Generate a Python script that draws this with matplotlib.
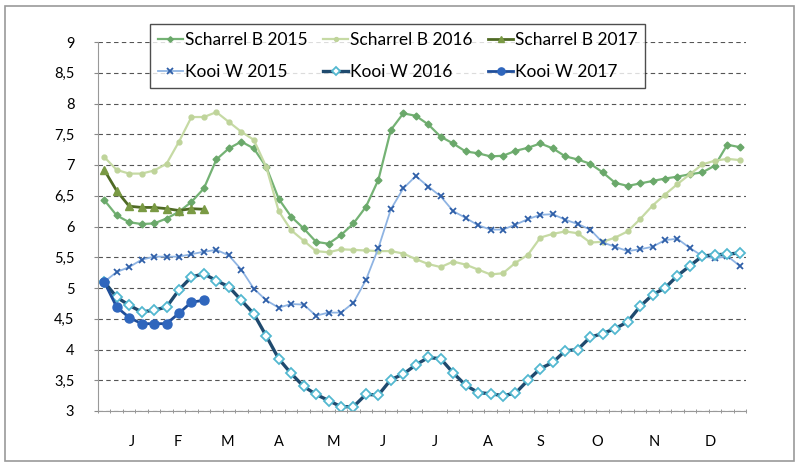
import matplotlib
matplotlib.use("Agg")
import matplotlib.pyplot as plt
import numpy as np
from matplotlib.patches import Rectangle

plt.rcParams['font.family'] = ['Lato', 'DejaVu Sans']

# weekly values, week 1..52
weeks = np.arange(52)

scharrel_2015 = [6.43, 6.18, 6.07, 6.04, 6.05, 6.13, 6.24, 6.40, 6.62, 7.09, 7.27, 7.38, 7.27,
                 6.97, 6.45, 6.16, 5.97, 5.75, 5.72, 5.86, 6.05, 6.32, 6.76, 7.57, 7.84, 7.80,
                 7.66, 7.46, 7.35, 7.22, 7.19, 7.14, 7.15, 7.23, 7.28, 7.35, 7.27, 7.14, 7.09,
                 7.02, 6.88, 6.71, 6.66, 6.70, 6.74, 6.78, 6.81, 6.85, 6.88, 6.99, 7.33, 7.29]
scharrel_2016 = [7.13, 6.92, 6.86, 6.86, 6.91, 7.02, 7.38, 7.78, 7.78, 7.86, 7.70, 7.54, 7.41,
                 6.97, 6.25, 5.94, 5.77, 5.60, 5.58, 5.63, 5.62, 5.61, 5.60, 5.60, 5.56, 5.47,
                 5.39, 5.34, 5.43, 5.38, 5.30, 5.22, 5.24, 5.41, 5.54, 5.82, 5.88, 5.92, 5.89,
                 5.74, 5.75, 5.82, 5.92, 6.12, 6.34, 6.52, 6.69, 6.85, 7.01, 7.07, 7.10, 7.08]
scharrel_2017 = [6.92, 6.58, 6.33, 6.31, 6.31, 6.29, 6.26, 6.29, 6.28]

kooi_2015 = [5.10, 5.26, 5.34, 5.46, 5.51, 5.51, 5.51, 5.55, 5.59, 5.62, 5.53, 5.30, 4.99,
             4.80, 4.68, 4.74, 4.73, 4.55, 4.60, 4.60, 4.76, 5.13, 5.65, 6.28, 6.62, 6.82,
             6.65, 6.49, 6.25, 6.14, 6.02, 5.95, 5.95, 6.03, 6.12, 6.19, 6.20, 6.11, 6.04,
             5.95, 5.74, 5.67, 5.60, 5.63, 5.67, 5.78, 5.80, 5.65, 5.52, 5.48, 5.52, 5.36]
kooi_2016 = [5.10, 4.85, 4.72, 4.61, 4.64, 4.69, 4.97, 5.18, 5.23, 5.12, 5.02, 4.80, 4.58,
             4.22, 3.85, 3.61, 3.40, 3.27, 3.17, 3.07, 3.07, 3.27, 3.26, 3.51, 3.60, 3.75,
             3.87, 3.85, 3.62, 3.42, 3.30, 3.28, 3.25, 3.29, 3.50, 3.69, 3.79, 3.98, 4.00,
             4.20, 4.26, 4.34, 4.45, 4.70, 4.89, 5.00, 5.20, 5.36, 5.52, 5.54, 5.55, 5.57]
kooi_2017 = [5.10, 4.69, 4.52, 4.42, 4.42, 4.42, 4.59, 4.77, 4.80]

month_labels = ['J', 'F', 'M', 'A', 'M', 'J', 'J', 'A', 'S', 'O', 'N', 'D']
month_pos = [2.2, 5.9, 9.9, 14.0, 18.4, 22.4, 26.5, 30.8, 35.0, 39.6, 44.1, 48.6]
y_ticks = [3, 3.5, 4, 4.5, 5, 5.5, 6, 6.5, 7, 7.5, 8, 8.5, 9]

fig = plt.figure(figsize=(7.99, 4.67), dpi=100)
ax = fig.add_axes([98/799, 1-411/467, 648/799, 369/467])

# outer frame of the picture
fig.patches.append(Rectangle((0.006, 0.012), 0.988, 0.976, transform=fig.transFigure,
                             fill=False, edgecolor='#9a9a9a', lw=1.2))

h_s15, = ax.plot(weeks, scharrel_2015, color='#74b274', lw=1.6, marker='D', ms=3.5,
                 mfc='#6aa86a', mec='#6aa86a', label='Scharrel B 2015')
h_s16, = ax.plot(weeks, scharrel_2016, color='#c6daa4', lw=1.6, marker='o', ms=3.5,
                 mfc='#bfd49a', mec='#bfd49a', label='Scharrel B 2016')
h_k15, = ax.plot(weeks, kooi_2015, color='#8fb4e3', lw=1.3, marker='x', ms=5, mew=1.3,
                 mec='#2f5fa8', label='Kooi W 2015')
h_k16, = ax.plot(weeks, kooi_2016, color='#1f4a6e', lw=2.4, marker='D', ms=5,
                 mfc='white', mec='#53b8d0', mew=1.3, label='Kooi W 2016')
h_s17, = ax.plot(np.arange(len(scharrel_2017)), scharrel_2017, color='#4f6a24', lw=2.0,
                 marker='^', ms=6, mfc='#7a9a44', mec='#7a9a44', label='Scharrel B 2017')
h_k17, = ax.plot(np.arange(len(kooi_2017)), kooi_2017, color='#1f4e9a', lw=2.0,
                 marker='o', ms=6.5, mfc='#2f66bd', mec='#2f66bd', label='Kooi W 2017')

ax.set_xlim(-0.5, 51.5)
ax.set_ylim(3, 9)
ax.set_yticks(y_ticks)
ax.set_yticklabels([('%g' % v).replace('.', ',') for v in y_ticks], fontsize=10.5)
ax.set_xticks(month_pos)
ax.set_xticklabels(month_labels, fontsize=10.5)
ax.tick_params(axis='x', length=0, pad=17)
ax.set_xticks(np.arange(-0.5, 52, 1), minor=True)
ax.tick_params(axis='x', which='minor', length=3, color='#888888', direction='inout')
ax.tick_params(axis='y', length=3, color='#888888', direction='out', pad=14)

ax.grid(axis='y', which='major', color='#555555', ls=(0, (4, 3)), lw=0.8)
ax.set_axisbelow(True)
for side in ['top', 'right']:
    ax.spines[side].set_visible(False)
ax.spines['left'].set_color('#999999')
ax.spines['bottom'].set_color('#999999')

leg = ax.legend(handles=[h_s15, h_k15, h_s16, h_k16, h_s17, h_k17], ncol=3,
                loc='upper left', bbox_to_anchor=(150/799, 1-24/467),
                bbox_transform=fig.transFigure, borderaxespad=0, fontsize=12.5,
                frameon=True, fancybox=False, edgecolor='#222222', handlelength=1.45,
                handletextpad=0.1, columnspacing=0.9, borderpad=0.45, labelspacing=0.95,
                markerscale=0.8)
leg.get_frame().set_linewidth(1.0)

fig.savefig('out.png', dpi=100)
